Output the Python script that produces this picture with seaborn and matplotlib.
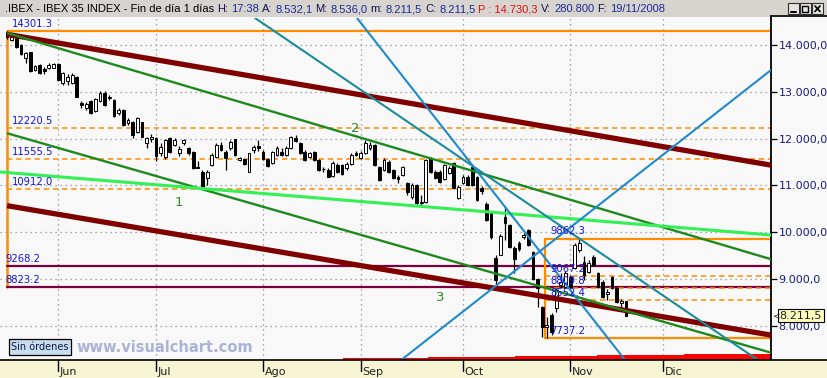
import matplotlib
matplotlib.use("Agg")
import matplotlib.pyplot as plt
from matplotlib.patches import Rectangle
from matplotlib.lines import Line2D
import numpy as np
import pandas as pd
import seaborn as sns

sns.set_theme(style="white")
plt.rcParams['font.family'] = ['DejaVu Sans']

# ---------------------------------------------------------------------------
# IBEX 35 daily candles, 16/05/2008 - 19/11/2008
first_day = "2008-05-16"
last_day = "2008-11-19"
opens = [14284, 14107, 14143, 14000, 13716, 13844, 13466, 13572, 13480, 13502,
         13515, 13587, 13181, 13230, 13181, 13323, 12760, 12647, 12803, 12589,
         12803, 12967, 12860, 12824, 12540, 12610, 12326, 12361, 12134, 12347,
         11898, 11990, 12005, 11684, 11612, 12005, 11862, 11684, 11898, 11791,
         11719, 11375, 11291, 11150, 11434, 11612, 11862, 11719, 11791, 11984,
         11541, 11556, 11291, 11760, 11830, 11719, 11556, 11484, 11648, 11719,
         11648, 11791, 12005, 11898, 11719, 11612, 11719, 11541, 11350, 11328,
         11199, 11434, 11434, 11364, 11456, 11700, 11577, 11684, 11791, 11862,
         11399, 11328, 11506, 11328, 11180, 11221, 11043, 10757, 11007, 10640,
         10650, 11577, 11291, 11291, 11128, 11257, 11470, 10722, 11043, 11185,
         11399, 11185, 10940, 10600, 10436, 9440, 9500, 10316, 10152, 9650,
         9773, 9889, 10045, 9568, 8991, 8405, 7964, 8227, 8370, 8869,
         8833, 9048, 9226, 9617, 9367, 9155, 9474, 9120, 8940, 8676,
         9048, 8798, 8477, 8532.1]
highs = [14301.3, 14230, 14190, 14020, 13850, 13860, 13580, 13600, 13540, 13610,
         13620, 13610, 13430, 13380, 13400, 13340, 12800, 12780, 12830, 12870,
         13010, 13020, 12940, 12850, 12650, 12640, 12440, 12380, 12460, 12360,
         12040, 12090, 12030, 11900, 12000, 12030, 12010, 11830, 12000, 11820,
         11740, 11520, 11320, 11320, 11700, 11900, 11930, 11760, 11960, 12000,
         11610, 11590, 11700, 11870, 11960, 11750, 11580, 11740, 11830, 11800,
         11830, 12060, 12080, 11930, 11750, 11720, 11740, 11560, 11400, 11360,
         11520, 11470, 11450, 11500, 11700, 11740, 11730, 11960, 11930, 11880,
         11420, 11580, 11540, 11350, 11220, 11420, 11070, 11040, 11030, 10800,
         11560, 11600, 11320, 11320, 11460, 11420, 11490, 11000, 11230, 11220,
         11420, 11200, 10980, 10640, 10460, 9500, 9950, 10540, 10180, 9700,
         9800, 9980, 10060, 9600, 9020, 8430, 8190, 8260, 8800, 9130,
         9160, 9080, 9760, 9862.3, 9480, 9400, 9520, 9140, 8970, 8790,
         9070, 8820, 8560, 8536.0]
lows = [14120, 14080, 13940, 13780, 13622, 13430, 13440, 13380, 13375, 13480,
        13500, 13240, 13150, 13145, 13160, 12880, 12660, 12610, 12530, 12570,
        12780, 12700, 12820, 12470, 12500, 12270, 12300, 12020, 12110, 12030,
        11790, 11930, 11520, 11620, 11560, 11690, 11830, 11620, 11860, 11650,
        11350, 11360, 10912.0, 11000, 11420, 11590, 11740, 11330, 11760, 11630,
        11520, 11440, 11280, 11700, 11740, 11540, 11390, 11460, 11620, 11620,
        11620, 11770, 11920, 11670, 11520, 11590, 11520, 11310, 11280, 11170,
        11180, 11270, 11230, 11330, 11430, 11620, 11560, 11660, 11760, 11420,
        11090, 11300, 11270, 11130, 11050, 11200, 10800, 10700, 10590, 10560,
        10630, 11270, 11130, 11050, 11110, 11240, 10920, 10700, 11020, 10990,
        10990, 10660, 10820, 10230, 9860, 8900, 9500, 9830, 9670, 9120,
        9600, 9860, 9700, 8970, 8405, 7760, 7737.2, 7800, 8300, 8800,
        8800, 8800, 9200, 9580, 8980, 9120, 9270, 8810, 8600, 8550,
        8780, 8480, 8380, 8211.5]
closes = [14177, 14177, 13964, 13801, 13822, 13444, 13557, 13395, 13450, 13572,
          13587, 13252, 13395, 13323, 13359, 12895, 12720, 12739, 12553, 12845,
          12967, 12717, 12880, 12488, 12620, 12290, 12397, 12076, 12433, 12040,
          12005, 12040, 11634, 11826, 11969, 11720, 11969, 11776, 11969, 11684,
          11364, 11370, 10930, 11291, 11650, 11862, 11755, 11577, 11920, 11648,
          11577, 11456, 11684, 11810, 11800, 11556, 11413, 11719, 11791, 11648,
          11791, 12026, 11950, 11684, 11541, 11684, 11541, 11328, 11340, 11185,
          11484, 11291, 11242, 11456, 11648, 11650, 11684, 11898, 11862, 11434,
          11114, 11541, 11291, 11150, 11130, 11385, 10864, 11007, 10615, 10620,
          11541, 11291, 11150, 11078, 11434, 11364, 10936, 10971, 11185, 11007,
          11007, 10686, 10870, 10259, 9889, 8976, 9917, 10201, 9689, 9420,
          9632, 9938, 9724, 8991, 8798, 7977, 8014, 7870, 8762, 8940,
          9120, 8833, 9724, 9760, 9083, 9333, 9296, 8833, 8619, 8726,
          8798, 8512, 8527, 8211.5]

# Session header values
hdr_time = "17:38"
hdr_volume = "280.800"
hdr_prev = "14.730,3"

# Month labels of the time axis
month_labels = ["Jun", "Jul", "Ago", "Sep", "Oct", "Nov", "Dic"]

# Price axis ticks
price_ticks = [8000, 9000, 10000, 11000, 12000, 13000, 14000]

# Drawing tools: retracement from the May high
fib_left_levels = [14301.3, 12220.5, 11555.5, 10912.0]
fib_left_labels = ["14301.3", "12220.5", "11555.5", "10912.0"]
hline_levels = [9268.2, 8823.2]
hline_labels = ["9268.2", "8823.2"]
# retracement box on the October swing
box_start_day = 115.6
box_top, box_bottom = 9862.3, 7737.2
box_levels = [9067.2, 8809.8, 8552.4]
box_labels = ["9862.3", "9067.2", "8809.8", "8552.4", "7737.2"]

# Trend lines, anchors as (day index, price)
maroon_upper = [(0, 14230), (164, 11434)]
maroon_lower = [(0, 10565), (164, 7800)]
green_upper = [(0, 14257), (164, 9425)]
green_lower = [(0, 12114), (164, 7426)]
lime_line = [(0, 11273), (164, 9938)]
teal_line = [(53.3, 14577), (160.7, 7308)]
blue_fall = [(75.2, 14577), (132.8, 7265)]
blue_rise = [(84.7, 7265), (163.9, 13444)]
wave_marks = [("1", 37.0, 10622), ("2", 74.8, 12225), ("3", 93.0, 8591)]

# Red indicator band along the bottom
red_edges = [72.2, 90.5, 109.2, 126.8, 145.5, 164.2]
red_tops = [7312, 7328, 7348, 7368, 7395]

# ---------------------------------------------------------------------------
W, H = 828, 378
BG = "#F8F8F8"
DAY_PX = 4.654
PRICE_PX = 0.04677  # pixels per index point


def fx(px):
    return px / W


def fy(py):
    return 1 - py / H


def fmt_es(v):
    s = f"{v:,.1f}"
    return s.replace(",", "X").replace(".", ",").replace("X", ".")


fig = plt.figure(figsize=(W / 100, H / 100), dpi=100)
fig.patch.set_facecolor(BG)

ax = fig.add_axes([0, fy(360), fx(771), (360 - 18) / H])
ax.set_facecolor(BG)
x_lo, x_hi = -7 / DAY_PX, (771 - 7) / DAY_PX
y_hi = 14000 + 27 / PRICE_PX
y_lo = 14000 - 315 / PRICE_PX
ax.set_xlim(x_lo, x_hi)
ax.set_ylim(y_lo, y_hi)

# calendar -> day index
days = pd.bdate_range(first_day, "2008-12-31")
month_idx = [int(np.argmax(days.month == m)) for m in range(6, 13)]

# grid
ax.hlines(price_ticks, x_lo, x_hi, colors="#8a8a8a", linestyles=(0, (1, 3)), lw=0.9, zorder=1)
ax.vlines(month_idx, y_lo, y_hi, colors="#8a8a8a", linestyles=(0, (1, 3)), lw=0.9, zorder=1)

# horizontal levels
orange = "#FF8C00"
ax.plot([0, x_hi], [fib_left_levels[0]] * 2, color=orange, lw=1.6, zorder=2, solid_capstyle="butt")
for lv in fib_left_levels[1:]:
    ax.plot([0, x_hi], [lv, lv], color=orange, lw=1.1, ls=(0, (3.5, 2.5)), zorder=2)
ax.plot([0, 0], [fib_left_levels[0], hline_levels[1]], color=orange, lw=1.8, zorder=2)
for lv in hline_levels:
    ax.plot([0, x_hi], [lv, lv], color="#7A0040", lw=1.6, zorder=2)

# box on the right
ax.plot([box_start_day, x_hi], [box_top] * 2, color=orange, lw=1.6, zorder=2)
ax.plot([box_start_day, x_hi], [box_bottom] * 2, color=orange, lw=1.6, zorder=2)
ax.plot([box_start_day] * 2, [box_bottom, box_top], color=orange, lw=1.6, zorder=2)
for lv in box_levels:
    ax.plot([box_start_day, x_hi], [lv, lv], color=orange, lw=1.1, ls=(0, (3.5, 2.5)), zorder=2)

# red band
ax.fill_between(red_edges, [y_lo] * len(red_edges), red_tops + [red_tops[-1]],
                step="post", color="#FF0000", lw=0, zorder=2)

# candles
x = np.arange(len(closes))
o = np.array(opens, float)
c = np.array(closes, float)
up = c >= o
ax.vlines(x, lows, highs, color="black", lw=0.9, zorder=3)
body_lo = np.minimum(o, c)
body_h = np.maximum(np.abs(c - o), 16)
ax.bar(x, body_h, bottom=body_lo, width=0.6,
       color=np.where(up, "white", "black"), edgecolor="black", linewidth=0.7, zorder=4)


def ray(pts, start=None, **kw):
    (x1, y1), (x2, y2) = pts
    k = (y2 - y1) / (x2 - x1)
    xs = np.array([x1 if start is None else start, x_hi])
    ax.plot(xs, y1 + k * (xs - x1), solid_capstyle="butt", zorder=5, **kw)


def infinite(pts, **kw):
    ax.axline(pts[0], pts[1], zorder=5, **kw)


ray(maroon_upper, start=0, color="#800000", lw=3.8)
ray(maroon_lower, start=0, color="#800000", lw=3.8)
ray(green_upper, start=0, color="#1E8A1E", lw=1.7)
ray(green_lower, start=0, color="#1E8A1E", lw=1.7)
infinite(lime_line, color="#33F055", lw=2.2)
infinite(teal_line, color="#1A8C9C", lw=1.5)
infinite(blue_fall, color="#1F8ACB", lw=1.5)
infinite(blue_rise, color="#1F8ACB", lw=1.5)

# level labels
lab_kw = dict(textcoords="offset points", va="baseline", ha="left",
              color="#1414E6", fontsize=7.2, zorder=6)
for lv, lb in zip(fib_left_levels, fib_left_labels):
    ax.annotate(lb, xy=(0, lv), xytext=(3.6, 2.9), **lab_kw)
for lv, lb in zip(hline_levels, hline_labels):
    ax.annotate(lb, xy=(0, lv), xytext=(-1.4, 2.9), **lab_kw)
for lv, lb in zip([box_top] + box_levels + [box_bottom], box_labels):
    ax.annotate(lb, xy=(box_start_day, lv), xytext=(3.6, 2.9), **lab_kw)

for txt, d, p in wave_marks:
    ax.text(d, p, txt, color="#2A8A2A", fontsize=9.5, ha="center", va="center", zorder=6)

# axes styling
for side in ("top", "left"):
    ax.spines[side].set_visible(False)
ax.spines["right"].set_color("black")
ax.spines["right"].set_linewidth(1.3)
ax.spines["bottom"].set_visible(False)
ax.yaxis.tick_right()
ax.set_yticks(price_ticks)
ax.set_yticklabels([fmt_es(v) for v in price_ticks])
ax.tick_params(axis="y", direction="out", length=4.3, width=0.9, color="black",
               pad=1.2, labelsize=8, labelcolor="#1A1A80", right=True, left=False)
ax.set_xticks([])

# last price tag
ax.annotate(fmt_es(closes[-1]), xy=(1, closes[-1]), xycoords=("axes fraction", "data"),
            xytext=(6.3, 0), textcoords="offset points", va="center", ha="left",
            fontsize=8, color="#202020", annotation_clip=False, zorder=10,
            bbox=dict(boxstyle="square,pad=0.15", fc="#FFFFC0", ec="black", lw=0.8))
ax.annotate("<", xy=(1, closes[-1]), xycoords=("axes fraction", "data"),
            xytext=(1.5, 0), textcoords="offset points", va="center", ha="left",
            fontsize=6.5, color="#202020", annotation_clip=False, zorder=10)

# time strip
fig.patches.append(Rectangle((0, 0), 1, 18 / H, transform=fig.transFigure,
                             facecolor="#F6F4D3", edgecolor="none", zorder=0))
fig.lines.append(Line2D([0, 1], [fy(360)] * 2, transform=fig.transFigure, color="black", lw=1.2))
for m, lab in zip(month_idx, month_labels):
    px = 7 + m * DAY_PX
    fig.lines.append(Line2D([fx(px)] * 2, [fy(360), fy(371)], transform=fig.transFigure,
                            color="black", lw=1.0))
    fig.text(fx(px + 1.5), fy(372), lab, fontsize=8, color="#202020", va="center", ha="left")

# header bar
fig.patches.append(Rectangle((0, fy(17)), 1, 17 / H, transform=fig.transFigure,
                             facecolor="#D7D4CF", edgecolor="none", zorder=0))
fig.lines.append(Line2D([fx(771.5), 1], [fy(16)] * 2, transform=fig.transFigure, color="black", lw=1.2))
fig.lines.append(Line2D([fx(771.5)] * 2, [fy(16), fy(18)], transform=fig.transFigure, color="black", lw=1.3))

label_c, value_c = "#10104A", "#1C2A96"
pieces = [
    (".IBEX - IBEX 35 INDEX - Fin de día 1 días", "black"),
    ("H:", label_c), (hdr_time, value_c),
    ("A:", label_c), (fmt_es(opens[-1]), value_c),
    ("M:", label_c), (fmt_es(highs[-1]), value_c),
    ("m:", label_c), (fmt_es(lows[-1]), value_c),
    ("C:", label_c), (fmt_es(closes[-1]), value_c),
    ("P : " + hdr_prev, "#E01010"),
    ("V:", label_c), (hdr_volume, value_c),
    ("F:", label_c), (pd.Timestamp(last_day).strftime("%d/%m/%Y"), value_c),
]
hdr_family = ["Liberation Sans", "DejaVu Sans"]
renderer = fig.canvas.get_renderer()


def text_width(s, size):
    t = fig.text(0, 0, s, fontsize=size, family=hdr_family)
    w = t.get_window_extent(renderer).width
    t.remove()
    return w


ref_size = 10.0
gap = text_width("a a", ref_size) - text_width("aa", ref_size)
total = sum(text_width(s, ref_size) for s, _ in pieces) + gap * (len(pieces) - 1)
hsize = ref_size * 660 / total
scale = hsize / ref_size
cursor = 5.0
for s, col in pieces:
    fig.text(fx(cursor), fy(9), s, fontsize=hsize, color=col, va="center", ha="left",
             family=hdr_family)
    cursor += (text_width(s, ref_size) + gap) * scale

# window buttons
for i, bx in enumerate([788, 800, 812]):
    fig.patches.append(Rectangle((fx(bx), fy(14)), fx(11), 11 / H, transform=fig.transFigure,
                                 facecolor="#E6E4E0", edgecolor="#303030", lw=0.8))
fig.lines.append(Line2D([fx(791), fx(796)], [fy(12)] * 2, transform=fig.transFigure, color="black", lw=1.4))
fig.patches.append(Rectangle((fx(802.5), fy(12)), fx(6), 6 / H, transform=fig.transFigure,
                             facecolor="none", edgecolor="black", lw=1.0))
fig.lines.append(Line2D([fx(815), fx(820)], [fy(6), fy(11.5)], transform=fig.transFigure, color="black", lw=1.2))
fig.lines.append(Line2D([fx(815), fx(820)], [fy(11.5), fy(6)], transform=fig.transFigure, color="black", lw=1.2))

# footer badge and watermark
fig.patches.append(Rectangle((fx(9), fy(355)), fx(62), 16 / H, transform=fig.transFigure,
                             facecolor="#C9DDF0", edgecolor="black", lw=0.9, zorder=8))
fig.text(fx(40), fy(347), "Sin órdenes", fontsize=7, color="#101840", ha="center", va="center", zorder=9)
fig.text(fx(76), fy(347), "www.visualchart.com", fontsize=10.5, fontweight="bold",
         color="#A9B4D6", ha="left", va="center", zorder=9)

fig.savefig("out.png", dpi=100, facecolor=BG)
